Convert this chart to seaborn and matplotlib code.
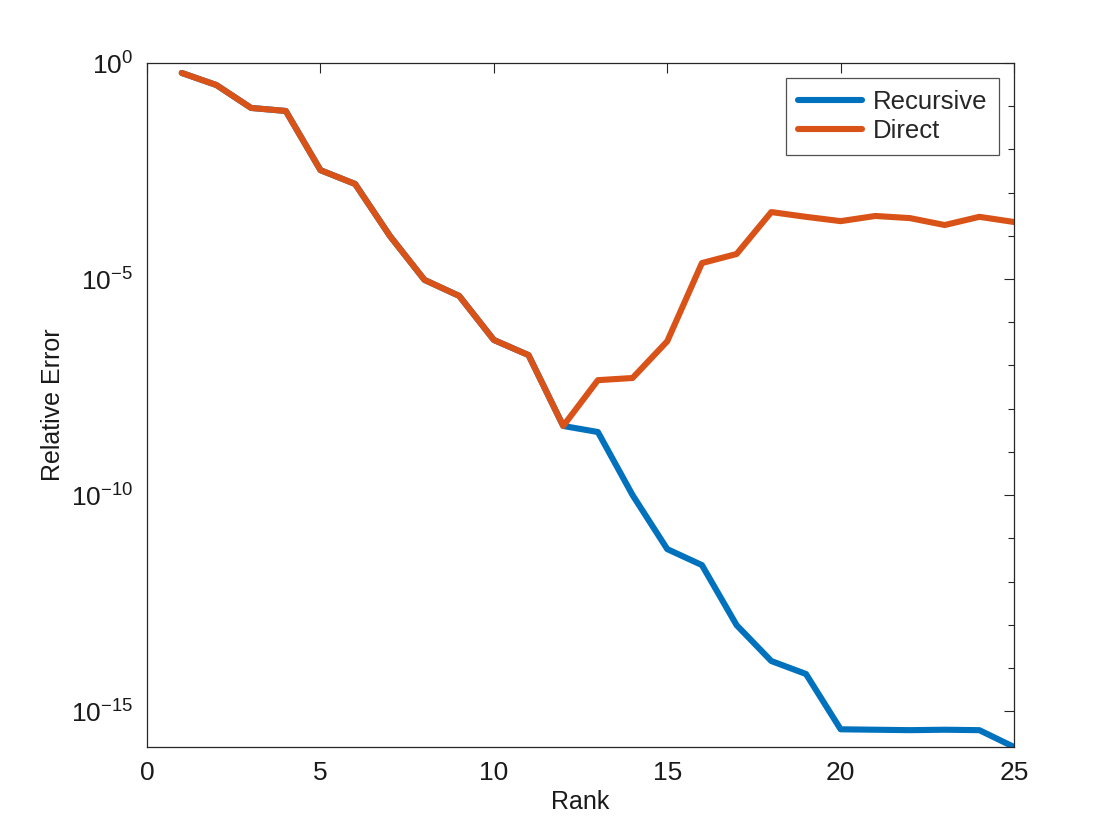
# Relative error vs rank (recursive vs direct), log scale

import numpy as np
import pandas as pd
import matplotlib
matplotlib.use("Agg")
import matplotlib.pyplot as plt
import matplotlib.ticker as mticker
import seaborn as sns

rank = list(range(1, 26))
# log10 of relative error
direct_log = [-0.23, -0.51, -1.04, -1.11, -2.48, -2.80, -4.00, -5.02, -5.39, -6.41,
              -6.76, -8.40, -7.34, -7.29, -6.44, -4.63, -4.42, -3.45, -3.56, -3.66,
              -3.54, -3.59, -3.75, -3.56, -3.68]
recursive_log = [-0.23, -0.51, -1.04, -1.11, -2.48, -2.80, -4.00, -5.02, -5.39, -6.41,
                 -6.76, -8.40, -8.54, -10.00, -11.25, -11.62, -13.01, -13.84, -14.14, -15.42,
                 -15.43, -15.44, -15.43, -15.44, -15.83]
y_major = [0, -5, -10, -15]

sns.set_style("white")
plt.rcParams["font.family"] = ["Liberation Sans", "DejaVu Sans"]
plt.rcParams["mathtext.fontset"] = "custom"
plt.rcParams["mathtext.rm"] = "Liberation Sans"
plt.rcParams["mathtext.default"] = "regular"

df = pd.concat([
    pd.DataFrame({"Rank": rank, "Error": 10.0 ** np.array(recursive_log), "Method": "Recursive"}),
    pd.DataFrame({"Rank": rank, "Error": 10.0 ** np.array(direct_log), "Method": "Direct"}),
])

fig = plt.figure(figsize=(11.2, 8.4), dpi=100)
ax = fig.add_axes([0.1313, 0.1107, 0.7741, 0.8143])
sns.lineplot(data=df, x="Rank", y="Error", hue="Method", ax=ax,
             palette={"Recursive": "#0072BD", "Direct": "#D95319"},
             linewidth=4.4, legend=True)
ax.set_yscale("log")
ax.set_xlim(0, 25)
ax.set_ylim(10 ** -15.83, 1)
ax.set_xticks([0, 5, 10, 15, 20, 25])
ax.yaxis.set_major_locator(mticker.FixedLocator([10.0 ** k for k in y_major]))
ax.yaxis.set_major_formatter(mticker.FuncFormatter(
    lambda v, p: "10$^{%d}$" % round(np.log10(v))))
ax.yaxis.set_minor_locator(mticker.FixedLocator([10.0 ** -k for k in range(16)]))
ax.yaxis.set_minor_formatter(mticker.NullFormatter())
ax.tick_params(which="both", direction="in", top=True, right=True, width=0.8, colors="#262626",
               labelcolor="#1a1a1a", labelsize=19)
ax.tick_params(axis="x", pad=10)
ax.tick_params(axis="y", pad=10)
ax.tick_params(which="major", length=7)
ax.tick_params(which="minor", length=4)
for s in ax.spines.values():
    s.set_color("#262626")
    s.set_linewidth(0.9)
ax.set_xlabel("Rank", fontsize=18, color="#1a1a1a", labelpad=4)
ax.set_ylabel("Relative Error", fontsize=18, color="#1a1a1a", labelpad=4)
leg = ax.legend(loc="upper right", fontsize=18.5, frameon=True, fancybox=False,
                edgecolor="#262626", handlelength=2.5, handletextpad=0.4,
                borderaxespad=0.6, labelspacing=0.2, borderpad=0.45)
leg.get_frame().set_linewidth(0.9)
for line in leg.get_lines():
    line.set_linewidth(4.4)

fig.savefig("out.png", dpi=100)
